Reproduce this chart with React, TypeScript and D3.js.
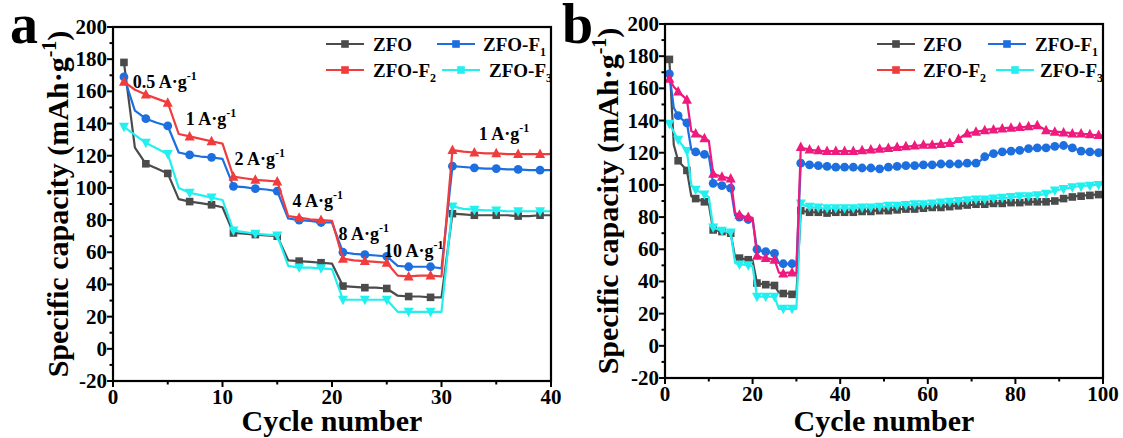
import React from "react";
import * as d3 from "d3";

// ---------- DATA ----------
// Rate test (cycles 1-30)
const zfoRate = [178, 125, 115, 112, 109, 93, 91.5, 90.5, 89.5, 88, 72, 71.5, 71, 70.5, 70, 55, 54.5, 54, 53.5, 53, 39, 38.5, 38, 38, 37.5, 33, 32.5, 32.5, 32, 32];
const f1Rate = [169, 148, 143, 140.5, 138.5, 122, 120.5, 119.5, 119, 118, 101, 100.5, 99.5, 99, 98, 81, 80, 79.5, 78.5, 78.5, 60, 59, 58.5, 58, 57.5, 51.5, 51, 51, 51, 50];
const f2Rate = [166, 161, 158, 155.5, 153, 133.5, 132, 130.5, 129, 127.5, 107, 106, 105, 104.5, 104, 82.5, 81.5, 80.5, 80, 79.5, 56, 55, 54.5, 54, 53.5, 45.5, 45, 45.5, 45.5, 45];
const f3Rate = [138, 133, 128, 124.5, 121, 100, 97, 95.5, 94, 92.5, 73.5, 72.5, 71.5, 71, 70.5, 51.5, 50.5, 50.5, 50, 49.5, 30.5, 30.5, 30.5, 30.5, 30.5, 23, 23, 23, 23, 23];

// Recovery at 1 A/g (cycles 31-100)
const zfoLong = [
  84, 83.5, 83, 83, 83, 83, 82.5, 82.5, 83, 83,
  83, 83, 83, 83.5, 83.5, 83.5, 83.5, 84, 84, 84,
  84, 84.5, 84.5, 85, 85, 85, 85, 85.5, 85.5, 85.5,
  86, 86, 86, 86.5, 86.5, 87, 87, 87, 87.5, 87.5,
  88, 88, 88, 88, 88.5, 88.5, 88.5, 89, 89, 89,
  89, 89, 89.5, 89.5, 89.5, 89.5, 89.5, 90, 90, 90.5,
  91.5, 92, 92.5, 93, 93, 93.5, 93.5, 94, 94, 94,
];
const f1Long = [
  113.5, 113, 112.5, 112, 112, 111.5, 111.5, 111, 111, 111,
  111, 111, 111, 110.5, 110.5, 110.5, 110.5, 110, 110, 110.5,
  111, 111, 111.5, 111.5, 112, 112, 112, 112, 112.5, 112.5,
  112.5, 112.5, 113, 113, 113, 113, 113, 113, 113.5, 113.5,
  113.5, 115, 117.5, 118.5, 119.5, 120, 120.5, 120.5, 121, 121.5,
  121.5, 122, 122.5, 122.5, 123, 123, 123, 123.5, 124, 124,
  124.5, 124, 123, 122, 121, 120.5, 120.5, 120.5, 120, 120,
];
const f2Long = [
  123.5, 122.5, 122, 121.5, 121.5, 121, 121, 121, 121, 121,
  121, 121, 121, 121, 121.5, 121.5, 122, 122, 122.5, 122.5,
  123, 123, 123.5, 123.5, 124, 124, 124.5, 124.5, 125, 125,
  125, 125.5, 125.5, 126, 126, 126, 128.5, 130.5, 132, 132.5,
  133, 133.5, 134, 134.5, 134.5, 135, 135, 135.5, 135.5, 135.5,
  136, 136, 136.5, 136.5, 137, 135.5, 134, 133.5, 133, 133,
  132.5, 132.5, 132, 132, 132, 131.5, 131.5, 131, 131, 130.5,
];
const f3Long = [
  88.5, 87, 86.5, 86, 86, 85.5, 85.5, 85.5, 85.5, 85.5,
  85.5, 85.5, 85.5, 86, 86, 86, 86, 86.5, 86.5, 86.5,
  87, 87, 87, 87.5, 87.5, 87.5, 88, 88, 88, 88,
  88.5, 88.5, 89, 89, 89.5, 89.5, 90, 90, 90.5, 90.5,
  91, 91, 91, 91.5, 91.5, 92, 92, 92, 92.5, 92.5,
  93, 93, 93, 93.5, 93.5, 94, 94.5, 95.5, 96.5, 97,
  97.5, 98, 98.5, 99, 99, 99.5, 99.5, 100, 100, 100.5,
];

const seriesNames = ["ZFO", "ZFO-F1", "ZFO-F2", "ZFO-F3"];
const yTicks = [-20, 0, 20, 40, 60, 80, 100, 120, 140, 160, 180, 200];
const rateLabels = [
  { main: "0.5 A·g", cyc: 1.8, val: 162 },
  { main: "1 A·g", cyc: 6.65, val: 139 },
  { main: "2 A·g", cyc: 11.1, val: 114 },
  { main: "4 A·g", cyc: 16.4, val: 88 },
  { main: "8 A·g", cyc: 20.6, val: 67.5 },
  { main: "10 A·g", cyc: 24.75, val: 57 },
  { main: "1 A·g", cyc: 33.4, val: 130 },
];

// ---------- STYLE ----------
const FONT = "'Liberation Serif', 'Times New Roman', serif";
const C_ZFO = "#4b4b4b";
const C_F1 = "#1d6fe0";
const C_F2 = "#f03c3c";
const C_F2B = "#ee1a7e";
const C_F3 = "#22f0f0";

type PanelCfg = {
  letter: string;
  left: number; right: number; top: number; bottom: number;
  xMax: number; xMajor: number; xMinor: number;
  n: number;
  f2Color: string;
  legend: { lx: number; ly: number; len: number; tx: number }[];
  letterX: number;
  ylabelX: number;
  showRate: boolean;
};

function full(rate: number[], long: number[]) {
  return rate.concat(long);
}

const allData = [
  full(zfoRate, zfoLong),
  full(f1Rate, f1Long),
  full(f2Rate, f2Long),
  full(f3Rate, f3Long),
];

function Marker({ kind, x, y, color }: { kind: number; x: number; y: number; color: string }) {
  if (kind === 0) return <rect x={x - 3.8} y={y - 3.8} width={7.6} height={7.6} fill={color} />;
  if (kind === 1) return <circle cx={x} cy={y} r={4.4} fill={color} />;
  if (kind === 2) {
    const s = 5;
    return <path d={`M${x},${y - s * 1.1} L${x + s},${y + s * 0.8} L${x - s},${y + s * 0.8} Z`} fill={color} />;
  }
  const s = 5;
  return <path d={`M${x},${y + s * 1.1} L${x + s},${y - s * 0.8} L${x - s},${y - s * 0.8} Z`} fill={color} />;
}

function Panel({ cfg }: { cfg: PanelCfg }) {
  const x = d3.scaleLinear().domain([0, cfg.xMax]).range([cfg.left, cfg.right]);
  const y = d3.scaleLinear().domain([-20, 200]).range([cfg.bottom, cfg.top]);
  const colors = [C_ZFO, C_F1, cfg.f2Color, C_F3];
  const legendColors = [C_ZFO, C_F1, C_F2, C_F3];
  const line = d3
    .line<number>()
    .x((_, i) => x(i + 1))
    .y((d) => y(d));

  const xMajorTicks = d3.range(0, cfg.xMax + 0.001, cfg.xMajor);
  const xMinorTicks = d3.range(cfg.xMinor, cfg.xMax, cfg.xMajor).filter((v) => v % cfg.xMajor !== 0);
  const yMinor = d3.range(-10, 200, 20);

  const draw = [0, 3, 1, 2];
  return (
    <g fontFamily={FONT} fontWeight="bold">
      {/* series */}
      {draw.map((si) => {
        const vals = allData[si].slice(0, cfg.n);
        return (
          <g key={si}>
            <path d={line(vals) || ""} fill="none" stroke={colors[si]} strokeWidth={2.2} strokeLinejoin="round" />
            {vals.map((v, i) =>
              i % 2 === 0 ? <Marker key={i} kind={si} x={x(i + 1)} y={y(v)} color={colors[si]} /> : null
            )}
          </g>
        );
      })}
      {/* frame */}
      <rect x={cfg.left} y={cfg.top} width={cfg.right - cfg.left} height={cfg.bottom - cfg.top} fill="none" stroke="#000" strokeWidth={2.2} />
      {/* y ticks */}
      {yTicks.map((t) => (
        <g key={t}>
          <line x1={cfg.left - 6} x2={cfg.left} y1={y(t)} y2={y(t)} stroke="#000" strokeWidth={2} />
          <text x={cfg.left - 6} y={y(t) + 7} textAnchor="end" fontSize={21}>
            {t}
          </text>
        </g>
      ))}
      {yMinor.map((t) => (
        <line key={t} x1={cfg.left - 3.5} x2={cfg.left} y1={y(t)} y2={y(t)} stroke="#000" strokeWidth={2} />
      ))}
      {/* x ticks */}
      {xMajorTicks.map((t) => (
        <g key={t}>
          <line x1={x(t)} x2={x(t)} y1={cfg.bottom} y2={cfg.bottom + 6} stroke="#000" strokeWidth={2} />
          <text x={x(t)} y={cfg.bottom + 23} textAnchor="middle" fontSize={21}>
            {t}
          </text>
        </g>
      ))}
      {xMinorTicks.map((t) => (
        <line key={t} x1={x(t)} x2={x(t)} y1={cfg.bottom} y2={cfg.bottom + 3.5} stroke="#000" strokeWidth={2} />
      ))}
      {/* axis titles */}
      <text x={(cfg.left + cfg.right) / 2} y={431} textAnchor="middle" fontSize={30}>
        Cycle number
      </text>
      <text
        transform={`translate(${cfg.ylabelX},${(cfg.top + cfg.bottom) / 2}) rotate(-90)`}
        textAnchor="middle"
        fontSize={30}
      >
        Specific capacity (mAh·g
        <tspan fontSize={20} dy={-12}>-1</tspan>
        <tspan dy={12}>)</tspan>
      </text>
      {/* panel letter */}
      <text x={cfg.letterX} y={43} fontSize={56}>
        {cfg.letter}
      </text>
      {/* legend */}
      {cfg.legend.map((L, i) => {
        const name = seriesNames[i];
        const hasSub = name.includes("-F");
        return (
          <g key={i}>
            <line x1={L.lx} x2={L.lx + L.len} y1={L.ly} y2={L.ly} stroke={legendColors[i]} strokeWidth={2.2} />
            <rect x={L.lx + L.len / 2 - 3.8} y={L.ly - 3.8} width={7.6} height={7.6} fill={legendColors[i]} />
            <text x={L.tx} y={L.ly + 7} fontSize={19}>
              {hasSub ? "ZFO-F" : "ZFO"}
              {hasSub ? (
                <tspan fontSize={12} dy={5}>
                  {name.slice(-1)}
                </tspan>
              ) : null}
            </text>
          </g>
        );
      })}
      {/* rate labels */}
      {cfg.showRate &&
        rateLabels.map((r, i) => (
          <text key={i} x={x(r.cyc)} y={y(r.val)} fontSize={18}>
            {r.main}
            <tspan fontSize={12} dy={-8}>-1</tspan>
          </text>
        ))}
    </g>
  );
}

const panelA: PanelCfg = {
  letter: "a",
  left: 113, right: 551, top: 27, bottom: 381,
  xMax: 40, xMajor: 10, xMinor: 5,
  n: 40,
  f2Color: C_F2,
  legend: [
    { lx: 326, ly: 44, len: 38, tx: 373 },
    { lx: 437, ly: 44, len: 38, tx: 483 },
    { lx: 326, ly: 70, len: 38, tx: 373 },
    { lx: 442, ly: 70, len: 38, tx: 489 },
  ],
  letterX: 10,
  ylabelX: 68,
  showRate: true,
};

const panelB: PanelCfg = {
  letter: "b",
  left: 665, right: 1103, top: 24, bottom: 378,
  xMax: 100, xMajor: 20, xMinor: 10,
  n: 100,
  f2Color: C_F2B,
  legend: [
    { lx: 877, ly: 44, len: 38, tx: 923 },
    { lx: 988, ly: 44, len: 38, tx: 1035 },
    { lx: 877, ly: 70, len: 38, tx: 923 },
    { lx: 996, ly: 70, len: 38, tx: 1040 },
  ],
  letterX: 562,
  ylabelX: 618,
  showRate: false,
};

export default function App() {
  return (
    <svg
      width={1123}
      height={438}
      viewBox="0 0 1123 438"
      style={{ position: "absolute", left: 0, top: 0, background: "#fff" }}
    >
      <rect width={1123} height={438} fill="#fff" />
      <Panel cfg={panelA} />
      <Panel cfg={panelB} />
    </svg>
  );
}
